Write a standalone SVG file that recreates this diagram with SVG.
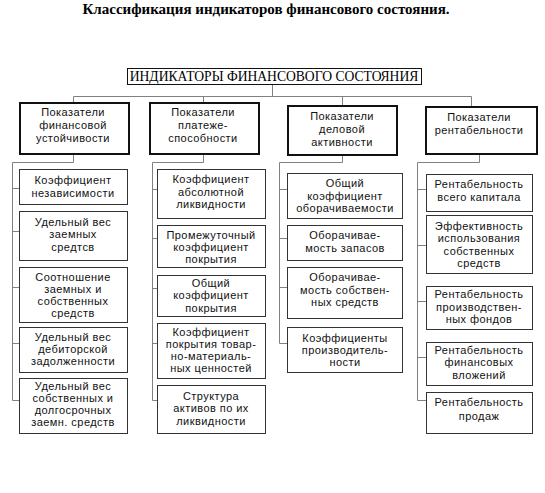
<svg xmlns="http://www.w3.org/2000/svg" width="545" height="493" viewBox="0 0 545 493">
<style>
.t{font-family:"Liberation Sans",Arial,sans-serif;font-size:11px;letter-spacing:0.45px;fill:#111;text-anchor:middle}
.cat{fill:#fff;stroke:#111;stroke-width:2}
.box{fill:#fff;stroke:#333;stroke-width:1}
.c{stroke:#808080;stroke-width:1;fill:none}
</style>
<rect width="545" height="493" fill="#fff"/>
<text x="266" y="14" style="font-family:'Liberation Serif','Times New Roman',serif;font-size:15px;font-weight:bold;text-anchor:middle;fill:#000">Классификация индикаторов финансового состояния.</text>
<g id="connectors">
<path class="c" d="M272.5 84V96.5M73.5 96.5H471.5M73.5 96.5V102M203.5 96.5V102M342.5 96.5V105M471.5 96.5V106"/>
<path class="c" d="M73.5 154V162.5H12.5V400.5H19M12.5 188.5H19M12.5 231.5H19M12.5 287.5H19M12.5 343.5H19"/>
<path class="c" d="M203.5 154V162.5H152.5V400.5H157M152.5 189.5H157M152.5 238.5H157M152.5 288.5H157M152.5 343.5H157"/>
<path class="c" d="M342.5 155V162.5H279.5V343.5H287M279.5 189.5H287M279.5 238.5H287M279.5 287.5H287"/>
<path class="c" d="M479.5 154V162.5H417.5V400.5H426M417.5 189.5H426M417.5 245.5H426M417.5 301.5H426M417.5 357.5H426"/>
</g>
<g id="root">
<rect x="127.5" y="68.5" width="294" height="16" fill="#fff" stroke="#111" stroke-width="1"/>
<text x="274" y="81" style="font-family:'Liberation Serif','Times New Roman',serif;font-size:13.6px;text-anchor:middle;fill:#000">ИНДИКАТОРЫ ФИНАНСОВОГО СОСТОЯНИЯ</text>
</g>
<g id="cat1"><rect class="cat" x="20" y="103" width="109" height="51"/>
<text class="t" x="73" y="116">Показатели</text><text class="t" x="73" y="129">финансовой</text><text class="t" x="73" y="142">устойчивости</text></g>
<g id="cat2"><rect class="cat" x="150" y="103" width="109" height="51"/>
<text class="t" x="203" y="116">Показатели</text><text class="t" x="203" y="129">платеже-</text><text class="t" x="203" y="142">способности</text></g>
<g id="cat3"><rect class="cat" x="288" y="106" width="109" height="49"/>
<text class="t" x="342" y="120">Показатели</text><text class="t" x="342" y="133">деловой</text><text class="t" x="342" y="146">активности</text></g>
<g id="cat4"><rect class="cat" x="426" y="107" width="111" height="47"/>
<text class="t" x="479" y="121">Показатели</text><text class="t" x="479" y="134">рентабельности</text></g>

<g id="n1a"><rect class="box" x="19.5" y="169.5" width="108" height="35"/>
<text class="t" x="73" y="184">Коэффициент</text><text class="t" x="73" y="197">независимости</text></g>
<g id="n1b"><rect class="box" x="19.5" y="211.5" width="108" height="49"/>
<text class="t" x="73" y="226">Удельный вес</text><text class="t" x="73" y="238">заемных</text><text class="t" x="73" y="251">средтсв</text></g>
<g id="n1c"><rect class="box" x="19.5" y="267.5" width="108" height="55"/>
<text class="t" x="73" y="281">Соотношение</text><text class="t" x="73" y="293">заемных и</text><text class="t" x="73" y="305">собственных</text><text class="t" x="73" y="317">средств</text></g>
<g id="n1d"><rect class="box" x="19.5" y="327.5" width="108" height="45"/>
<text class="t" x="73" y="341">Удельный вес</text><text class="t" x="73" y="353">дебиторской</text><text class="t" x="73" y="365">задолженности</text></g>
<g id="n1e"><rect class="box" x="19.5" y="378.5" width="108" height="55"/>
<text class="t" x="73" y="390">Удельный вес</text><text class="t" x="73" y="402">собственных и</text><text class="t" x="73" y="414">долгосрочных</text><text class="t" x="73" y="426">заемн. средств</text></g>

<g id="n2a"><rect class="box" x="157.5" y="169.5" width="108" height="49"/>
<text class="t" x="211" y="183">Коэффициент</text><text class="t" x="211" y="196">абсолютной</text><text class="t" x="211" y="208">ликвидности</text></g>
<g id="n2b"><rect class="box" x="157.5" y="225.5" width="108" height="42"/>
<text class="t" x="211" y="239">Промежуточный</text><text class="t" x="211" y="251">коэффициент</text><text class="t" x="211" y="263">покрытия</text></g>
<g id="n2c"><rect class="box" x="157.5" y="275.5" width="108" height="41"/>
<text class="t" x="211" y="287">Общий</text><text class="t" x="211" y="299">коэффициент</text><text class="t" x="211" y="312">покрытия</text></g>
<g id="n2d"><rect class="box" x="157.5" y="323.5" width="108" height="55"/>
<text class="t" x="211" y="336">Коэффициент</text><text class="t" x="211" y="348">покрытия товар-</text><text class="t" x="211" y="360">но-материаль-</text><text class="t" x="211" y="372">ных ценностей</text></g>
<g id="n2e"><rect class="box" x="157.5" y="385.5" width="108" height="48"/>
<text class="t" x="211" y="400">Структура</text><text class="t" x="211" y="412">активов по их</text><text class="t" x="211" y="425">ликвидности</text></g>

<g id="n3a"><rect class="box" x="287.5" y="173.5" width="115" height="45"/>
<text class="t" x="345" y="187">Общий</text><text class="t" x="345" y="200">коэффициент</text><text class="t" x="345" y="212">оборачиваемости</text></g>
<g id="n3b"><rect class="box" x="287.5" y="225.5" width="115" height="35"/>
<text class="t" x="345" y="239">Оборачивае-</text><text class="t" x="345" y="252">мость запасов</text></g>
<g id="n3c"><rect class="box" x="287.5" y="267.5" width="115" height="51"/>
<text class="t" x="345" y="281">Оборачивае-</text><text class="t" x="345" y="294">мость собствен-</text><text class="t" x="345" y="306">ных средств</text></g>
<g id="n3d"><rect class="box" x="287.5" y="327.5" width="115" height="45"/>
<text class="t" x="345" y="342">Коэффициенты</text><text class="t" x="345" y="354">производитель-</text><text class="t" x="345" y="366">ности</text></g>

<g id="n4a"><rect class="box" x="426.5" y="174.5" width="106" height="37"/>
<text class="t" x="479" y="188">Рентабельность</text><text class="t" x="479" y="201">всего капитала</text></g>
<g id="n4b"><rect class="box" x="426.5" y="215.5" width="106" height="58"/>
<text class="t" x="479" y="230">Эффективность</text><text class="t" x="479" y="242">использования</text><text class="t" x="479" y="255">собственных</text><text class="t" x="479" y="267">средств</text></g>
<g id="n4c"><rect class="box" x="426.5" y="286.5" width="106" height="43"/>
<text class="t" x="479" y="298">Рентабельность</text><text class="t" x="479" y="311">производствен-</text><text class="t" x="479" y="323">ных фондов</text></g>
<g id="n4d"><rect class="box" x="426.5" y="342.5" width="106" height="43"/>
<text class="t" x="479" y="354">Рентабельность</text><text class="t" x="479" y="366">финансовых</text><text class="t" x="479" y="379">вложений</text></g>
<g id="n4e"><rect class="box" x="426.5" y="392.5" width="106" height="41"/>
<text class="t" x="479" y="406">Рентабельность</text><text class="t" x="479" y="420">продаж</text></g>
</svg>
